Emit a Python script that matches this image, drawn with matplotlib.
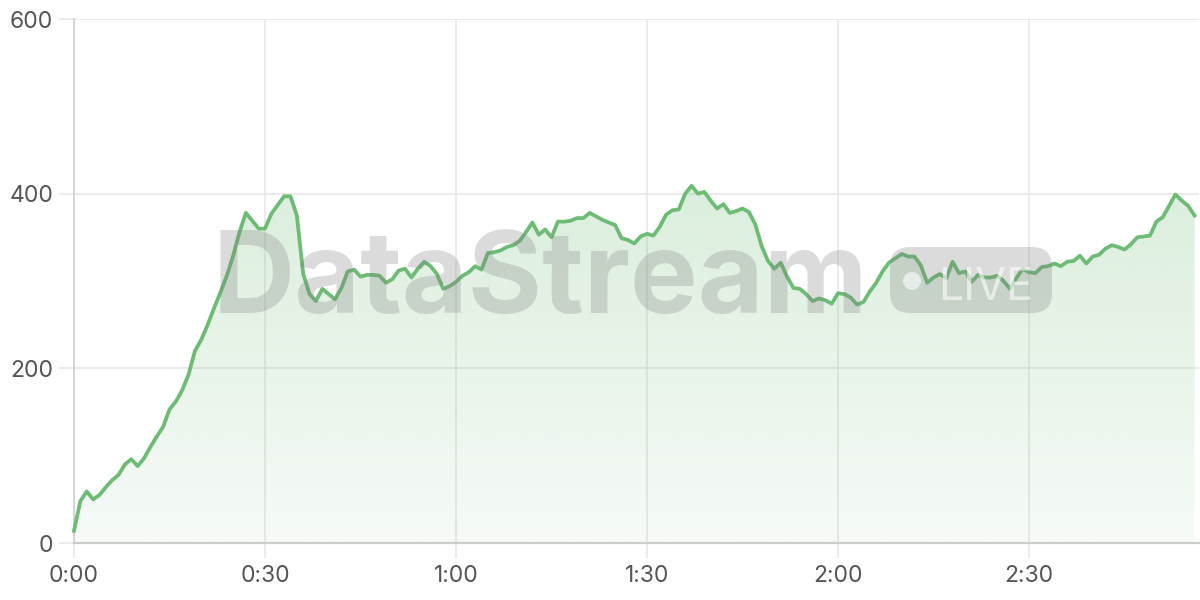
import numpy as np
import matplotlib
matplotlib.use("Agg")
import matplotlib.pyplot as plt
from matplotlib.patches import FancyBboxPatch, Circle
from matplotlib.transforms import IdentityTransform

# values, one per second (0..176 s)
viewers = [
    14, 48, 59, 50, 55, 64, 72, 78, 90, 96,
    88, 97, 110, 122, 133, 153, 162, 175, 193, 220,
    233, 250, 269, 287, 306, 329, 356, 378, 369, 360,
    360, 377, 387, 397, 397, 375, 308, 285, 277, 291,
    285, 279, 292, 311, 313, 305, 307, 307, 306, 298,
    302, 312, 314, 304, 314, 322, 317, 308, 291, 294,
    299, 306, 310, 317, 313, 332, 333, 335, 339, 341,
    346, 356, 367, 353, 359, 350, 368, 368, 369, 372,
    372, 378, 374, 370, 367, 364, 349, 347, 343, 351,
    354, 352, 362, 376, 381, 382, 400, 409, 400, 402,
    392, 383, 388, 378, 380, 383, 379, 365, 340, 323,
    314, 321, 305, 292, 291, 285, 277, 280, 278, 274,
    286, 285, 281, 273, 276, 288, 298, 311, 321, 326,
    331, 328, 328, 318, 298, 304, 308, 303, 322, 309,
    311, 299, 307, 304, 304, 306, 300, 291, 303, 314,
    310, 309, 316, 317, 320, 317, 322, 323, 329, 320,
    328, 330, 337, 341, 339, 336, 342, 350, 351, 352,
    368, 373, 386, 399, 392, 386, 375,
]
seconds = np.arange(len(viewers))
xticks = [0, 30, 60, 90, 120, 150]
xtick_labels = ["0:00", "0:30", "1:00", "1:30", "2:00", "2:30"]
yticks = [0, 200, 400, 600]

green = "#6dbb74"
grid_c = "#e6e6e6"
label_c = "#555555"
font = ["Inter", "Liberation Sans", "DejaVu Sans"]
plt.rcParams["font.family"] = font

fig = plt.figure(figsize=(12, 6), dpi=100)
ax = fig.add_axes([74 / 1200, 1 - 543 / 600, 1125 / 1200, 524 / 600])

# gradient area under the line
poly = ax.fill_between(seconds, viewers, 0, color="none", lw=0)
top = max(viewers)
alpha = np.linspace(0.06, 0.25, 256)[:, None]
rgba = np.zeros((256, 1, 4))
rgba[..., :3] = matplotlib.colors.to_rgb(green)
rgba[..., 3] = alpha
im = ax.imshow(rgba, extent=[0, seconds[-1], 0, top], origin="lower",
               aspect="auto", zorder=1, interpolation="bilinear")
im.set_clip_path(poly.get_paths()[0], transform=ax.transData)

ax.plot(seconds, viewers, color=green, lw=2.7, solid_joinstyle="round",
        zorder=4, clip_on=False)

ax.set_xlim(0, 176.7)
ax.set_ylim(0, 600)
ax.set_xticks(xticks)
ax.set_xticklabels(xtick_labels)
ax.set_yticks(yticks)
ax.grid(True, color=grid_c, lw=1.1, zorder=0)
ax.set_axisbelow(True)
for s in ["top", "right"]:
    ax.spines[s].set_visible(False)
ax.spines["left"].set_color("#d2d2d2")
ax.spines["left"].set_linewidth(1.3)
ax.spines["bottom"].set_color("#cccccc")
ax.spines["bottom"].set_linewidth(1.6)
ax.tick_params(axis="both", length=11, width=1.1, color=grid_c,
               labelcolor=label_c, labelsize=16.5)
ax.tick_params(axis="x", pad=5)
ax.tick_params(axis="y", pad=4)

# watermark
px = IdentityTransform()
wm = fig.text(212, 600 - 313, "DataStream", transform=px, fontsize=80,
              fontweight="bold", color="#808080", alpha=0.28,
              ha="left", va="baseline", zorder=3)
fig.canvas.draw()
r = fig.canvas.get_renderer()
bb = wm.get_window_extent(r)
wm.set_fontsize(80 * 656 / bb.width)

badge = FancyBboxPatch((890, 600 - 313), 162, 66, transform=px,
                       boxstyle="round,pad=0,rounding_size=20",
                       fc="#808080", ec="none", alpha=0.28, zorder=3)
fig.add_artist(badge)
fig.add_artist(Circle((912, 600 - 281), 9, transform=px, fc="white",
                      ec="none", alpha=0.6, zorder=3))
live = fig.text(938, 600 - 300, "LIVE", transform=px, fontsize=30,
                family=["Liberation Sans Narrow", "Inter"],
                color="white", alpha=0.6,
                ha="left", va="baseline", zorder=3)
fig.canvas.draw()
bb = live.get_window_extent(r)
live.set_fontsize(min(30 * 95 / bb.width, 37))

fig.savefig("out.png", dpi=100)
